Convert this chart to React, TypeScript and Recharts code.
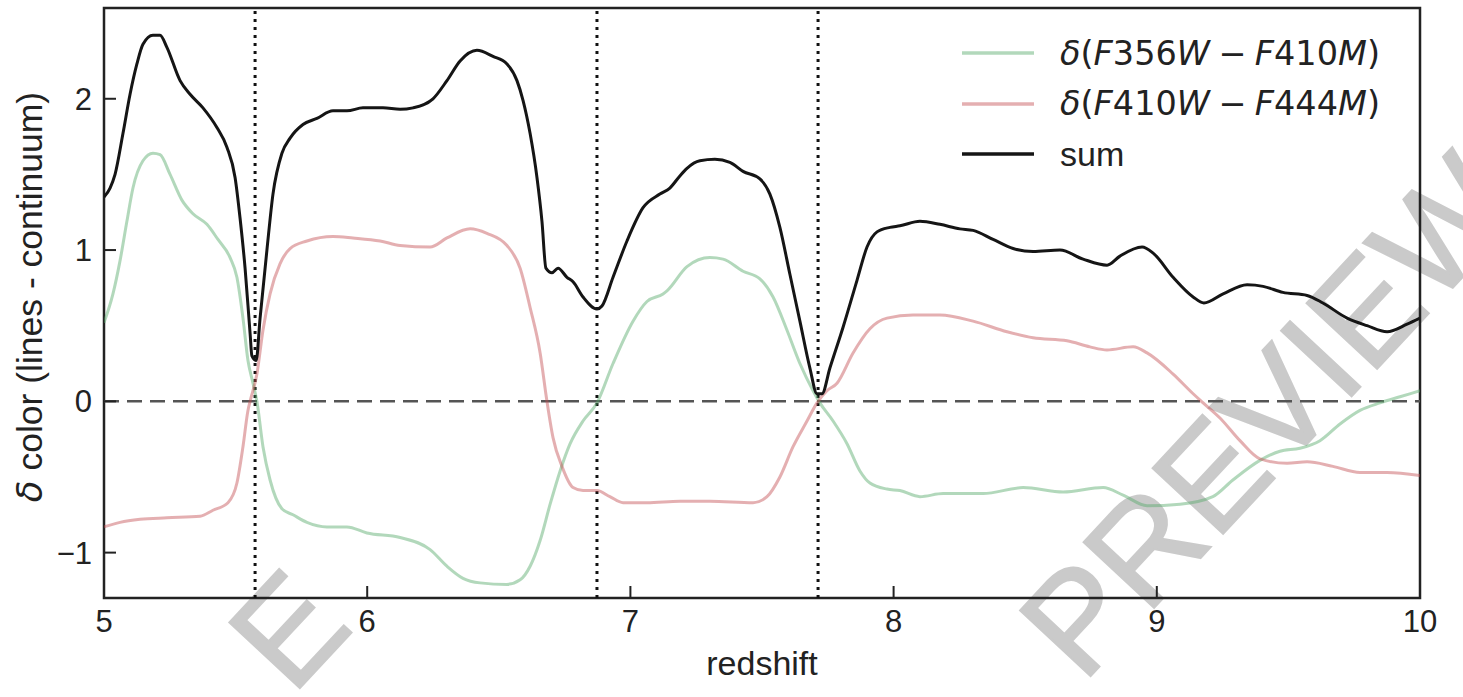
import React from 'react';
import { LineChart, Line, XAxis, YAxis, ReferenceLine, ReferenceArea } from 'recharts';

// δ(F356W − F410M) colour excess versus redshift
const f356Redshift = [
  5.0, 5.034, 5.061, 5.087, 5.11, 5.148, 5.186, 5.213, 5.251, 5.296, 5.338, 5.391, 5.433, 5.479, 5.505,
  5.528, 5.547, 5.566, 5.581, 5.604, 5.631, 5.676, 5.718, 5.771, 5.847, 5.923, 5.999, 6.125, 6.239, 6.303,
  6.364, 6.429, 6.531, 6.581, 6.619, 6.657, 6.695, 6.733, 6.771, 6.82, 6.873, 6.934, 7.01, 7.063, 7.124,
  7.139, 7.215, 7.302, 7.352, 7.428, 7.492, 7.542, 7.595, 7.644, 7.694, 7.72, 7.77, 7.823, 7.872, 7.91,
  7.975, 8.024, 8.1, 8.188, 8.34, 8.492, 8.644, 8.796, 8.872, 8.963, 9.088, 9.213, 9.289, 9.392, 9.468,
  9.544, 9.62, 9.696, 9.772, 9.848, 9.924, 10.0,
];
const f356Delta = [
  0.52, 0.71, 0.93, 1.19, 1.41, 1.59, 1.64, 1.63, 1.5, 1.33, 1.24, 1.17, 1.07, 0.95, 0.82,
  0.55, 0.27, 0.12, 0.0, -0.3, -0.52, -0.71, -0.75, -0.8, -0.83, -0.83, -0.87, -0.9, -0.98, -1.09,
  -1.17, -1.2, -1.21, -1.18, -1.09, -0.92, -0.68, -0.46, -0.28, -0.13, -0.01, 0.25, 0.53, 0.66, 0.71,
  0.73, 0.89, 0.95, 0.94, 0.86, 0.81, 0.69, 0.47, 0.25, 0.07, -0.01, -0.13, -0.28, -0.46, -0.54,
  -0.58, -0.59, -0.63, -0.61, -0.61, -0.57, -0.6, -0.57, -0.62, -0.69, -0.68, -0.63, -0.52, -0.39, -0.33,
  -0.31, -0.26, -0.15, -0.06, -0.01, 0.03, 0.07,
];

// δ(F410W − F444M) colour excess versus redshift
const f410Redshift = [
  5.0, 5.061, 5.137, 5.239, 5.365, 5.414, 5.471, 5.505, 5.528, 5.547, 5.555, 5.581, 5.604, 5.631, 5.669,
  5.707, 5.771, 5.87, 5.946, 6.049, 6.125, 6.239, 6.303, 6.391, 6.455, 6.531, 6.581, 6.619, 6.657, 6.683,
  6.706, 6.74, 6.782, 6.82, 6.873, 6.922, 6.972, 7.063, 7.188, 7.302, 7.466, 7.519, 7.568, 7.618, 7.671,
  7.709, 7.747, 7.785, 7.846, 7.91, 7.975, 8.074, 8.176, 8.302, 8.431, 8.53, 8.659, 8.746, 8.811, 8.91,
  8.963, 9.062, 9.138, 9.176, 9.24, 9.316, 9.392, 9.495, 9.571, 9.669, 9.772, 9.875, 10.0,
];
const f410Delta = [
  -0.83, -0.8, -0.78, -0.77, -0.76, -0.72, -0.67, -0.54, -0.3, -0.06, 0.0, 0.18, 0.47, 0.71, 0.91,
  1.01, 1.06, 1.09, 1.08, 1.06, 1.03, 1.02, 1.08, 1.14, 1.11, 1.03, 0.88, 0.62, 0.32, 0.0,
  -0.24, -0.43, -0.57, -0.59, -0.59, -0.63, -0.67, -0.67, -0.66, -0.66, -0.67, -0.63, -0.5, -0.3, -0.13,
  -0.01, 0.07, 0.12, 0.32, 0.48, 0.55, 0.57, 0.57, 0.53, 0.46, 0.42, 0.4, 0.36, 0.34, 0.36,
  0.32, 0.18, 0.05, -0.01, -0.11, -0.26, -0.38, -0.41, -0.4, -0.43, -0.47, -0.47, -0.49,
];

// Sum of the two colour excesses
const sumRedshift = [
  5.0, 5.023, 5.042, 5.072, 5.099, 5.125, 5.148, 5.186, 5.213, 5.239, 5.289, 5.327, 5.376, 5.429, 5.467,
  5.498, 5.517, 5.536, 5.555, 5.562, 5.578, 5.593, 5.619, 5.642, 5.676, 5.707, 5.756, 5.809, 5.87, 5.923,
  5.984, 6.06, 6.125, 6.174, 6.25, 6.303, 6.353, 6.417, 6.478, 6.531, 6.569, 6.592, 6.619, 6.645, 6.664,
  6.679, 6.702, 6.725, 6.759, 6.782, 6.82, 6.873, 6.892, 6.934, 6.987, 7.048, 7.112, 7.15, 7.188, 7.215,
  7.264, 7.321, 7.378, 7.428, 7.492, 7.53, 7.568, 7.606, 7.644, 7.682, 7.709, 7.728, 7.758, 7.808, 7.861,
  7.899, 7.937, 7.986, 8.024, 8.1, 8.176, 8.252, 8.302, 8.378, 8.454, 8.53, 8.632, 8.72, 8.811, 8.86,
  8.944, 8.986, 9.062, 9.138, 9.179, 9.252, 9.343, 9.404, 9.479, 9.571, 9.631, 9.723, 9.799, 9.875, 9.951,
  10.0,
];
const sumDelta = [
  1.35, 1.41, 1.5, 1.77, 2.03, 2.23, 2.36, 2.42, 2.42, 2.34, 2.12, 2.03, 1.94, 1.81, 1.68,
  1.48, 1.21, 0.88, 0.45, 0.3, 0.27, 0.55, 1.0, 1.37, 1.64, 1.74, 1.83, 1.87, 1.92, 1.92,
  1.94, 1.94, 1.93, 1.94, 2.0, 2.12, 2.25, 2.32, 2.28, 2.23, 2.12, 1.99, 1.77, 1.48, 1.19,
  0.88, 0.85, 0.88, 0.82, 0.79, 0.69, 0.61, 0.63, 0.82, 1.06, 1.28, 1.37, 1.41, 1.49, 1.54,
  1.59, 1.6, 1.58, 1.52, 1.47, 1.37, 1.15, 0.84, 0.53, 0.22, 0.05, 0.05, 0.22, 0.49, 0.8,
  1.02, 1.12, 1.15, 1.16, 1.19, 1.17, 1.14, 1.13, 1.07, 1.01, 0.99, 1.0, 0.94, 0.9, 0.96,
  1.02, 0.98, 0.82, 0.69, 0.65, 0.71, 0.77, 0.76, 0.72, 0.7, 0.65, 0.55, 0.5, 0.46, 0.51,
  0.55,
];

// Redshifts marked by vertical dotted lines
const markerRedshifts = [5.574, 6.873, 7.713];

const xTicks = [5, 6, 7, 8, 9, 10];
const yTicks = [-1, 0, 1, 2];

const GREEN = '#55a868';
const RED = '#c44e52';
const BLACK = '#151515';
const SERIES_ALPHA = 0.45;

const toPoints = (zs: number[], vs: number[]) => zs.map((z, i) => ({ z, v: vs[i] }));
const f356Data = toPoints(f356Redshift, f356Delta);
const f410Data = toPoints(f410Redshift, f410Delta);
const sumData = toPoints(sumRedshift, sumDelta);

const SANS = '"Liberation Sans", Arial, sans-serif';
const MATH = '"DejaVu Sans", sans-serif';
const TICK_FONT = 31;
const LABEL_FONT = 34;
const TICK_LEN = 12;

const fmt = (v: number) => (v < 0 ? `\u2212${Math.abs(v)}` : `${v}`);

const XTick = (props: any) => {
  const { x, y, payload } = props;
  const axisY = y - 10;
  return (
    <g>
      <line x1={x} x2={x} y1={axisY} y2={axisY - TICK_LEN} stroke="#222" strokeWidth={2} />
      <text x={x} y={y} dy="0.78em" textAnchor="middle" fontFamily={SANS} fontSize={TICK_FONT} fill="#222">
        {fmt(payload.value)}
      </text>
    </g>
  );
};

const YTick = (props: any) => {
  const { x, y, payload } = props;
  const axisX = x + 12;
  return (
    <g>
      <line x1={axisX} x2={axisX + TICK_LEN} y1={y} y2={y} stroke="#222" strokeWidth={2} />
      <text x={x} y={y} dy="0.36em" textAnchor="end" fontFamily={SANS} fontSize={TICK_FONT} fill="#222">
        {fmt(payload.value)}
      </text>
    </g>
  );
};

const mathGap = <span style={{ display: 'inline-block', width: '0.25em' }} />;

const legendItems = [
  {
    color: GREEN,
    alpha: SERIES_ALPHA,
    label: <><i>δ</i>(<i>F</i>356<i>W</i>{mathGap}&minus;{mathGap}<i>F</i>410<i>M</i>)</>,
    math: true,
  },
  {
    color: RED,
    alpha: SERIES_ALPHA,
    label: <><i>δ</i>(<i>F</i>410<i>W</i>{mathGap}&minus;{mathGap}<i>F</i>444<i>M</i>)</>,
    math: true,
  },
  { color: BLACK, alpha: 1, label: <>sum</>, math: false },
];

const LegendBox = () => (
  <div style={{ position: 'absolute', left: 962, top: 28, display: 'flex', flexDirection: 'column' }}>
    {legendItems.map((it, i) => (
      <div key={i} style={{ display: 'flex', alignItems: 'center', height: 50.5 }}>
        <svg width={72} height={6} style={{ marginRight: 26 }}>
          <line x1={0} x2={72} y1={3} y2={3} stroke={it.color} strokeOpacity={it.alpha} strokeWidth={3.5} />
        </svg>
        <span
          style={{
            fontFamily: it.math ? MATH : SANS,
            fontSize: it.math ? 33.5 : 34,
            color: '#222',
            whiteSpace: 'nowrap',
            lineHeight: 1,
          }}
        >
          {it.label}
        </span>
      </div>
    ))}
  </div>
);

// Grey diagonal "PREVIEW" stamp laid under the figure
const Stamp = () => (
  <svg width={1463} height={697} style={{ position: 'absolute', left: 0, top: 0 }}>
    <g fill="#cacaca" stroke="#cacaca" strokeWidth={2} fontFamily={SANS} fontSize={140}>
      <text x={1266} y={414} dy="0.36em" textAnchor="middle" transform="rotate(-47 1266 414)">
        PREVIEW
      </text>
      <text x={287} y={628} dy="0.36em" textAnchor="middle" transform="rotate(-47 287 628)">
        E
      </text>
    </g>
  </svg>
);

export default function App() {
  return (
    <div style={{ position: 'absolute', left: 0, top: 0, width: 1463, height: 697, background: '#fff', overflow: 'hidden' }}>
      <Stamp />
      <div style={{ position: 'absolute', left: 0, top: 0 }}>
        <LineChart width={1463} height={697} margin={{ top: 8, right: 43, bottom: 0, left: 0 }}>
          <XAxis
            type="number"
            dataKey="z"
            domain={[5, 10]}
            ticks={xTicks}
            allowDataOverflow
            height={99}
            axisLine={false}
            tickLine={false}
            tickSize={0}
            tickMargin={10}
            tick={<XTick />}
            label={{ value: 'redshift', position: 'insideBottom', offset: 22, fontFamily: SANS, fontSize: LABEL_FONT, fill: '#222' }}
          />
          <YAxis
            type="number"
            dataKey="v"
            domain={[-1.3, 2.6]}
            ticks={yTicks}
            allowDataOverflow
            width={104}
            axisLine={false}
            tickLine={false}
            tickSize={0}
            tickMargin={12}
            tick={<YTick />}
          />
          <ReferenceLine y={0} stroke="#555" strokeWidth={2.5} strokeDasharray="15 8" />
          {markerRedshifts.map((z) => (
            <ReferenceLine key={z} x={z} stroke="#111" strokeWidth={3} strokeDasharray="3 5" />
          ))}
          <Line data={f356Data} dataKey="v" type="monotone" stroke={GREEN} strokeOpacity={SERIES_ALPHA} strokeWidth={3} dot={false} isAnimationActive={false} name="f356" />
          <Line data={f410Data} dataKey="v" type="monotone" stroke={RED} strokeOpacity={SERIES_ALPHA} strokeWidth={3} dot={false} isAnimationActive={false} name="f410" />
          <Line data={sumData} dataKey="v" type="monotone" stroke={BLACK} strokeWidth={3} dot={false} isAnimationActive={false} name="sum" />
          <ReferenceArea x1={5} x2={10} y1={-1.3} y2={2.6} fill="none" fillOpacity={0} stroke="#222" strokeWidth={2.5} ifOverflow="visible" />
        </LineChart>
      </div>
      <LegendBox />
      <div
        style={{
          position: 'absolute',
          left: 30,
          top: 297,
          transform: 'translate(-50%, -50%) rotate(-90deg)',
          whiteSpace: 'nowrap',
          fontFamily: SANS,
          fontSize: 35.5,
          color: '#222',
        }}
      >
        <span style={{ fontFamily: MATH, fontStyle: 'italic' }}>δ</span> color (lines - continuum)
      </div>
    </div>
  );
}
